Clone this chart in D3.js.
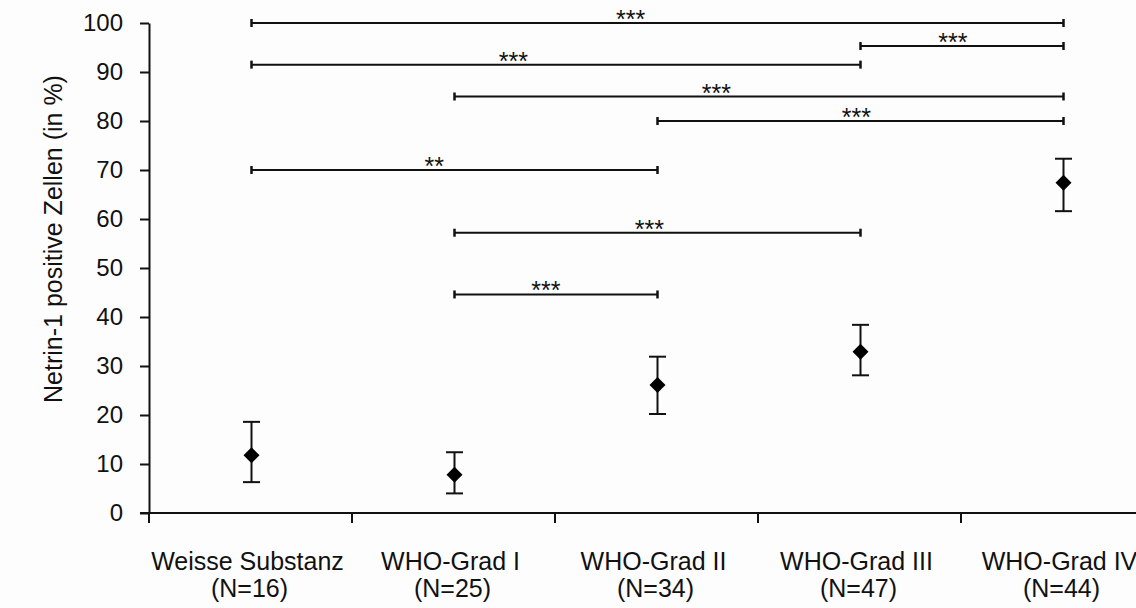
<!DOCTYPE html>
<html>
<head>
<meta charset="utf-8">
<script src="https://cdn.jsdelivr.net/npm/d3@7"></script>
<style>
  body { margin: 0; background: #fdfdfd; }
  svg { display: block; }
  text { font-family: Arial, "Liberation Sans", sans-serif; fill: #111; }
</style>
</head>
<body>
<svg class="theSvg" width="1136" height="608"></svg>
<script>
// values
var categories = ["Weisse Substanz", "WHO-Grad I", "WHO-Grad II", "WHO-Grad III", "WHO-Grad IV"];
var sampleSizes = ["(N=16)", "(N=25)", "(N=34)", "(N=47)", "(N=44)"];
var means = [11.8, 7.8, 26.1, 32.9, 67.4];
var upper = [18.6, 12.4, 31.9, 38.4, 72.3];
var lower = [6.3, 4.0, 20.2, 28.1, 61.6];
var yTicks = [0, 10, 20, 30, 40, 50, 60, 70, 80, 90, 100];

// significance brackets: from / to category, height, stars, where the stars sit along the bracket
var bracketFrom  = [0, 3, 0, 1, 2, 0, 1, 1];
var bracketTo    = [4, 4, 3, 4, 4, 2, 3, 2];
var bracketY     = [100, 95.3, 91.5, 85.0, 80.0, 70.0, 57.2, 44.6];
var bracketStars = ["***", "***", "***", "***", "***", "**", "***", "***"];
var bracketAt    = [0.467, 0.455, 0.43, 0.43, 0.49, 0.45, 0.48, 0.45];

var svg = d3.select(".theSvg");
var margins = {"left": 150, "top": 23, "bottom": 513};

var x = d3.scaleBand().domain(d3.range(categories.length)).range([margins.left, 1165]).padding(0);
var y = d3.scaleLinear().domain([0, 100]).range([margins.bottom, margins.top]);
var cx = function(i){ return x(i) + x.bandwidth()/2; };

// y axis
var yAxis = svg.append("g")
		.attr("transform", "translate(" + (margins.left - 1) + ",0)")
		.call(d3.axisLeft(y).tickValues(yTicks).tickSize(9).tickSizeOuter(0).tickPadding(17));
yAxis.select(".domain").attr("stroke", "#111").attr("stroke-width", 2);
yAxis.selectAll(".tick line").attr("stroke", "#111").attr("stroke-width", 2);
yAxis.selectAll(".tick text")
		.attr("font-size", "24px")
		.attr("font-family", "Arial, 'Liberation Sans', sans-serif")
		.attr("fill", "#111");

svg.append("text")
		.attr("transform", "translate(62,239) rotate(-90)")
		.attr("text-anchor", "middle")
		.attr("font-size", "25px")
		.text("Netrin-1 positive Zellen (in %)");

// x axis
svg.append("line")
		.attr("x1", margins.left - 10).attr("x2", 1136)
		.attr("y1", y(0)).attr("y2", y(0))
		.attr("stroke", "#111").attr("stroke-width", 2);

svg.selectAll(".xtick")
		.data(d3.range(categories.length))
		.enter()
		.append("line")
		.attr("class", "xtick")
		.attr("x1", function(d){ return x(d) - 1; })
		.attr("x2", function(d){ return x(d) - 1; })
		.attr("y1", y(0))
		.attr("y2", y(0) + 10)
		.attr("stroke", "#111").attr("stroke-width", 2);

var labels = svg.selectAll(".catLabel")
		.data(d3.range(categories.length))
		.enter()
		.append("text")
		.attr("class", "catLabel")
		.attr("text-anchor", "middle")
		.attr("font-size", "25px")
		.attr("transform", function(d){ return "translate(" + (cx(d) - 3) + ",570)"; });
labels.append("tspan").attr("x", -1).attr("y", 0).text(function(d){ return categories[d]; });
labels.append("tspan").attr("x", 1).attr("y", 27).text(function(d){ return sampleSizes[d]; });

// brackets
var brackets = svg.selectAll(".bracket")
		.data(d3.range(bracketY.length))
		.enter()
		.append("g")
		.attr("class", "bracket");

brackets.append("line")
		.attr("x1", function(i){ return cx(bracketFrom[i]); })
		.attr("x2", function(i){ return cx(bracketTo[i]); })
		.attr("y1", function(i){ return y(bracketY[i]); })
		.attr("y2", function(i){ return y(bracketY[i]); })
		.attr("stroke", "#111").attr("stroke-width", 2);

[bracketFrom, bracketTo].forEach(function(ends){
	brackets.append("line")
			.attr("x1", function(i){ return cx(ends[i]); })
			.attr("x2", function(i){ return cx(ends[i]); })
			.attr("y1", function(i){ return y(bracketY[i]) - 4; })
			.attr("y2", function(i){ return y(bracketY[i]) + 4; })
			.attr("stroke", "#111").attr("stroke-width", 2.5);
});

brackets.append("text")
		.attr("text-anchor", "middle")
		.attr("font-size", "25px")
		.attr("x", function(i){
			var a = cx(bracketFrom[i]), b = cx(bracketTo[i]);
			return a + (b - a) * bracketAt[i];
		})
		.attr("y", function(i){ return y(bracketY[i]) + 5; })
		.text(function(i){ return bracketStars[i]; });

// error bars and means
var points = svg.selectAll(".point")
		.data(d3.range(means.length))
		.enter()
		.append("g")
		.attr("class", "point")
		.attr("transform", function(d){ return "translate(" + cx(d) + ",0)"; });

points.append("line")
		.attr("x1", 0).attr("x2", 0)
		.attr("y1", function(d){ return y(upper[d]); })
		.attr("y2", function(d){ return y(lower[d]); })
		.attr("stroke", "#111").attr("stroke-width", 2);

[upper, lower].forEach(function(arr){
	points.append("line")
			.attr("x1", -8.5).attr("x2", 8.5)
			.attr("y1", function(d){ return y(arr[d]); })
			.attr("y2", function(d){ return y(arr[d]); })
			.attr("stroke", "#111").attr("stroke-width", 2);
});

points.append("path")
		.attr("d", d3.symbol().type(d3.symbolSquare).size(128))
		.attr("transform", function(d){ return "translate(0," + y(means[d]) + ") rotate(45)"; })
		.attr("fill", "#000");
</script>
</body>
</html>
